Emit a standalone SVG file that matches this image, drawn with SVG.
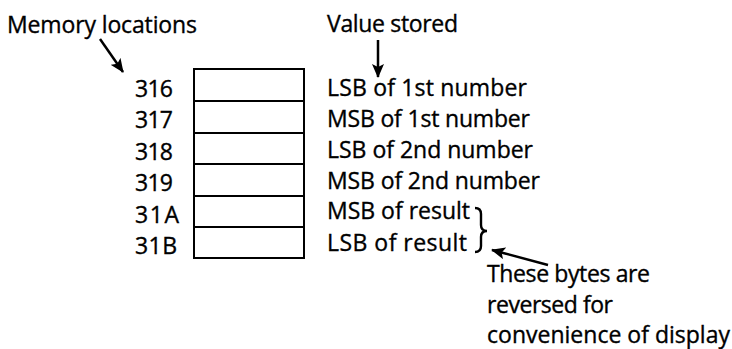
<svg xmlns="http://www.w3.org/2000/svg" width="732" height="349" viewBox="0 0 732 349">
  <style>
    text { font-family: "Open Sans", "Liberation Sans", sans-serif; font-size: 23px; fill: #000; stroke: #000; stroke-width: 0.35; }
    .cell { fill: #fff; stroke: #000; stroke-width: 2; }
    .conn { stroke: #000; stroke-width: 2.5; fill: none; }
    .brace { stroke: #000; stroke-width: 2.4; fill: none; }
  </style>
  <defs>
    <marker id="ah" markerUnits="userSpaceOnUse" markerWidth="14" markerHeight="12" refX="13" refY="6" orient="auto">
      <path d="M0,0 L14,6 L0,12 L3,6 Z" fill="#000"/>
    </marker>
  </defs>
  <rect width="732" height="349" fill="#fff"/>

  <g id="title-locations">
    <text x="7" y="33" textLength="190">Memory locations</text>
  </g>
  <g id="title-value">
    <text x="327" y="32" textLength="131">Value stored</text>
  </g>

  <g id="row-316">
    <text x="135" y="97" textLength="38">316</text>
    <rect class="cell" x="194" y="69" width="110" height="32"/>
    <text x="327" y="96" textLength="200">LSB of 1st number</text>
  </g>
  <g id="row-317">
    <text x="135" y="128" textLength="38">317</text>
    <rect class="cell" x="194" y="101" width="110" height="32"/>
    <text x="327" y="127" textLength="203">MSB of 1st number</text>
  </g>
  <g id="row-318">
    <text x="135" y="160" textLength="38">318</text>
    <rect class="cell" x="194" y="133" width="110" height="31"/>
    <text x="327" y="158" textLength="206">LSB of 2nd number</text>
  </g>
  <g id="row-319">
    <text x="135" y="191" textLength="38">319</text>
    <rect class="cell" x="194" y="164" width="110" height="32"/>
    <text x="327" y="189" textLength="213">MSB of 2nd number</text>
  </g>
  <g id="row-31A">
    <text x="135" y="223" textLength="44">31A</text>
    <rect class="cell" x="194" y="196" width="110" height="31"/>
    <text x="327" y="219" textLength="143">MSB of result</text>
  </g>
  <g id="row-31B">
    <text x="135" y="254" textLength="42">31B</text>
    <rect class="cell" x="194" y="227" width="110" height="31"/>
    <text x="327" y="251" textLength="140">LSB of result</text>
  </g>

  <g id="brace">
    <path class="brace" d="M475,208 Q481,208 481,214 L481,225 Q481,231 487,231 Q481,231 481,237 L481,246 Q481,252 475,252"/>
  </g>

  <g id="note">
    <text x="487" y="282" textLength="163">These bytes are</text>
    <text x="487" y="313" textLength="126">reversed for</text>
    <text x="487" y="343" textLength="243">convenience of display</text>
  </g>

  <g id="connectors">
    <line class="conn" x1="100" y1="39" x2="123" y2="72" marker-end="url(#ah)"/>
    <line class="conn" x1="378" y1="40" x2="378" y2="77" marker-end="url(#ah)"/>
    <line class="conn" x1="548" y1="265" x2="492" y2="250" marker-end="url(#ah)"/>
  </g>
</svg>
